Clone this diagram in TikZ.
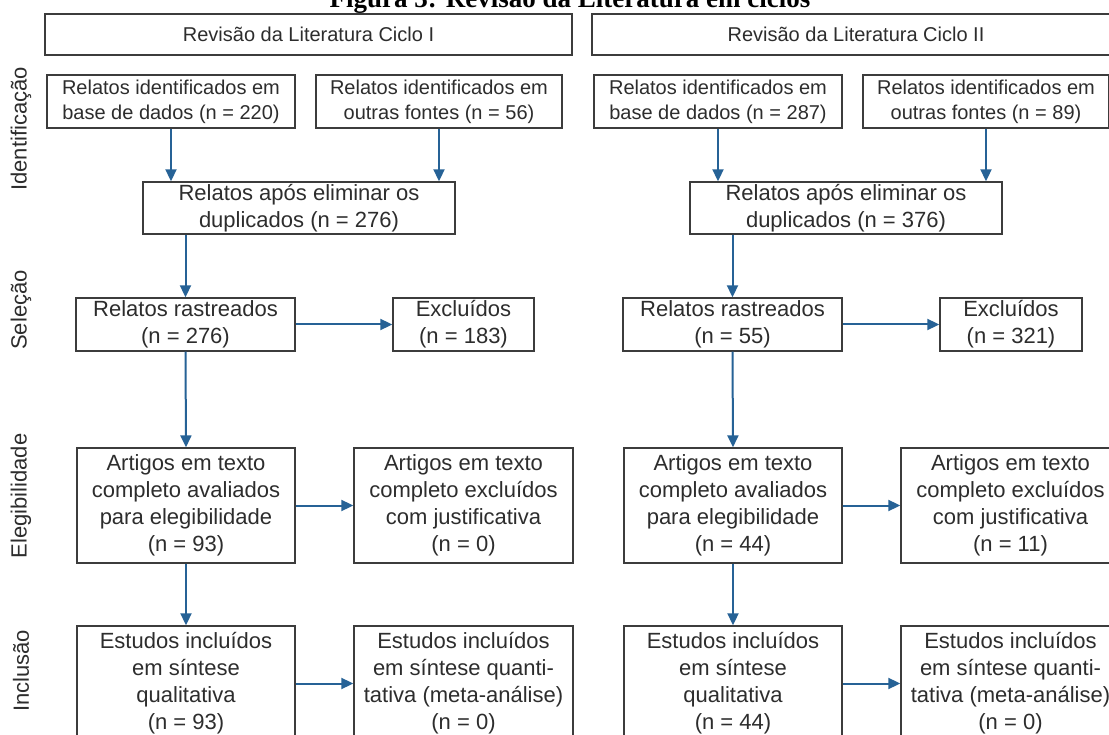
\documentclass[tikz,border=0pt]{standalone}
\usepackage{fontspec}
\setmainfont{Liberation Sans}
\newfontfamily\titlefont{Liberation Serif}
\usetikzlibrary{arrows.meta}
\definecolor{arrowblue}{RGB}{38,98,150}
\definecolor{boxline}{RGB}{60,60,60}
\definecolor{txt}{RGB}{45,45,45}
\tikzset{
  box/.style={draw=boxline, line width=1.4pt, align=center, inner sep=0pt, text=txt,
              font=\fontsize{22}{27}\selectfont},
  smallbox/.style={box, font=\fontsize{20}{25}\selectfont},
  headbox/.style={box, font=\fontsize{20}{24}\selectfont},
  flow/.style={draw=arrowblue, line width=2pt, -{Triangle[length=12pt,width=11pt]}},
  phase/.style={rotate=90, text=txt, font=\fontsize{22}{26}\selectfont, inner sep=0pt}
}
% box at x1,x2,y1,y2
\newcommand{\bx}[7]{%
  \node[#1, minimum width={(#4)-(#3)}, minimum height={(#6)-(#5)}]
    (#2) at ({((#3)+(#4))/2},{((#5)+(#6))/2}) {#7};}
\begin{document}
\begin{tikzpicture}[x=1pt,y=-1pt]
\useasboundingbox (0,0) rectangle (1109,735);
\fill[white] (0,0) rectangle (1109,735);

\node[anchor=base, inner sep=0pt, font=\titlefont\bfseries\fontsize{27}{30}\selectfont] (title) at (570,7.5) {Figura 3: Revisão da Literatura em ciclos};

% phase labels
\node[phase] (pid) at (21,129) {Identificação};
\node[phase] (psel) at (21,310) {Seleção};
\node[phase] (pele) at (21,496) {Elegibilidade};
\node[phase] (pinc) at (21,671) {Inclusão};

% headers
\bx{headbox}{HL}{45}{572}{14}{55}{Revisão da Literatura Ciclo I}
\bx{headbox}{HR}{592}{1120}{14}{55}{Revisão da Literatura Ciclo II}

% left column
\bx{smallbox}{L1}{47}{295}{75}{128}{Relatos identificados em\\base de dados (n = 220)}
\bx{smallbox}{L2}{316}{562}{75}{128}{Relatos identificados em\\outras fontes (n = 56)}
\bx{box}{L3}{143}{455}{182}{234}{Relatos após eliminar os\\duplicados (n = 276)}
\bx{box}{L4}{76}{295}{298}{351}{Relatos rastreados\\(n = 276)}
\bx{box}{L5}{393}{534}{298}{351}{Excluídos\\(n = 183)}
\bx{box}{L6}{77}{295}{448}{563}{Artigos em texto\\completo avaliados\\para elegibilidade\\(n = 93)}
\bx{box}{L7}{354}{573}{448}{563}{Artigos em texto\\completo excluídos\\com justificativa\\(n = 0)}
\bx{box}{L8}{77}{295}{626}{741}{Estudos incluídos\\em síntese\\qualitativa\\(n = 93)}
\bx{box}{L9}{354}{573}{626}{741}{Estudos incluídos\\em síntese quanti-\\tativa (meta-análise)\\(n = 0)}

% right column
\bx{smallbox}{R1}{594}{842}{75}{128}{Relatos identificados em\\base de dados (n = 287)}
\bx{smallbox}{R2}{863}{1109}{75}{128}{Relatos identificados em\\outras fontes (n = 89)}
\bx{box}{R3}{690}{1002}{182}{234}{Relatos após eliminar os\\duplicados (n = 376)}
\bx{box}{R4}{623}{842}{298}{351}{Relatos rastreados\\(n = 55)}
\bx{box}{R5}{940}{1082}{298}{351}{Excluídos\\(n = 321)}
\bx{box}{R6}{624}{842}{448}{563}{Artigos em texto\\completo avaliados\\para elegibilidade\\(n = 44)}
\bx{box}{R7}{901}{1120}{448}{563}{Artigos em texto\\completo excluídos\\com justificativa\\(n = 11)}
\bx{box}{R8}{624}{842}{626}{741}{Estudos incluídos\\em síntese\\qualitativa\\(n = 44)}
\bx{box}{R9}{901}{1120}{626}{741}{Estudos incluídos\\em síntese quanti-\\tativa (meta-análise)\\(n = 0)}

% connectors left
\draw[flow] (L1.south) -- (L1.south |- L3.north);
\draw[flow] (L2.south) -- (L2.south |- L3.north);
\draw[flow] (L4.north |- L3.south) -- (L4.north);
\draw[flow] (L4.east) -- (L5.west);
\draw[flow] (L4.south) -- (L6.north);
\draw[flow] (L6.east) -- (L7.west);
\draw[flow] (L6.south) -- (L8.north);
\draw[flow] (L8.east) -- (L9.west);

% connectors right
\draw[flow] (R1.south) -- (R1.south |- R3.north);
\draw[flow] (R2.south) -- (R2.south |- R3.north);
\draw[flow] (R4.north |- R3.south) -- (R4.north);
\draw[flow] (R4.east) -- (R5.west);
\draw[flow] (R4.south) -- (R6.north);
\draw[flow] (R6.east) -- (R7.west);
\draw[flow] (R6.south) -- (R8.north);
\draw[flow] (R8.east) -- (R9.west);
\end{tikzpicture}
\end{document}
